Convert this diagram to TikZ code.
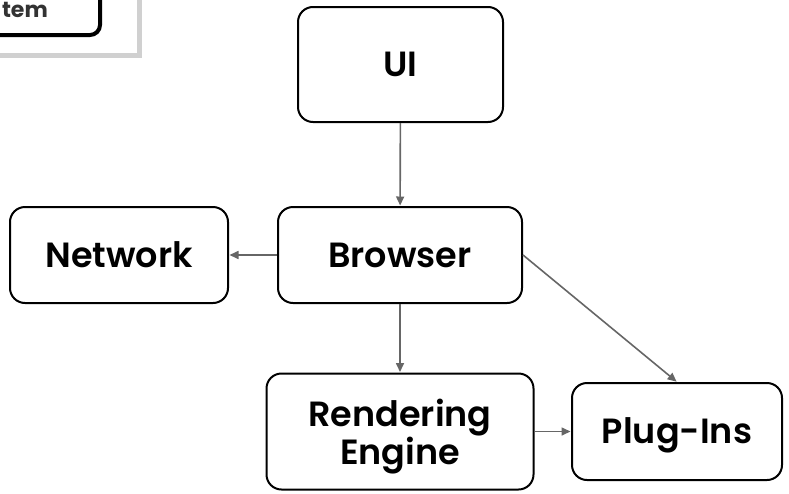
\documentclass[tikz,border=0pt]{standalone}
\usepackage{fontspec}
\setmainfont{Poppins}[BoldFont={Poppins SemiBold}]
\newfontfamily\heavyfont{Poppins}[UprightFont={Poppins Bold}]
\usetikzlibrary{arrows.meta}
\definecolor{linkgray}{HTML}{666666}
\definecolor{framegray}{HTML}{D0D0D0}
\definecolor{labelgray}{HTML}{333333}
\tikzset{
  block/.style={draw=black, line width=2pt, rounded corners=15pt, fill=white,
    align=center, inner sep=0pt, font=\bfseries\fontsize{35}{38}\selectfont},
  oneline/.style={text height=24.4pt, text depth=0pt},
  link/.style={draw=linkgray, line width=1.6pt,
    -{Triangle[length=9pt,width=8pt]}, shorten >=0.5pt},
}
\begin{document}
\begin{tikzpicture}[x=1pt,y=-1pt]
  \useasboundingbox (0,0) rectangle (789,493);
  \clip (0,0) rectangle (789,493);
  % partly visible panel in the corner
  \draw[framegray, line width=5pt] (-60,-60) rectangle (139,55);
  \draw[black, line width=4pt, rounded corners=10pt] (-60,-60) rectangle (100,35);
  \node[anchor=base east, inner sep=0pt, text=labelgray,
        font=\heavyfont\fontsize{22}{22}\selectfont] (sys) at (48,17) {tem};
  % components
  \node[block, oneline, minimum width=205pt, minimum height=115pt] (ui) at (400.5,64.5) {UI};
  \node[block, oneline, minimum width=244pt, minimum height=96pt] (brow) at (400,255) {Browser};
  \node[block, oneline, minimum width=218pt, minimum height=96pt] (net) at (119,255) {Network};
  \node[block, text depth=0pt, minimum width=267pt, minimum height=116pt] (rend) at (400,431.5) {Rendering\\Engine};
  \node[block, oneline, minimum width=210pt, minimum height=97pt] (plug) at (677,431.5) {Plug-Ins};
  % connectors
  \draw[link] (ui) -- (brow);
  \draw[link] (brow) -- (net);
  \draw[link] (brow) -- (rend);
  \draw[link] (brow.east) -- (plug.north);
  \draw[link] (rend) -- (plug);
\end{tikzpicture}
\end{document}
